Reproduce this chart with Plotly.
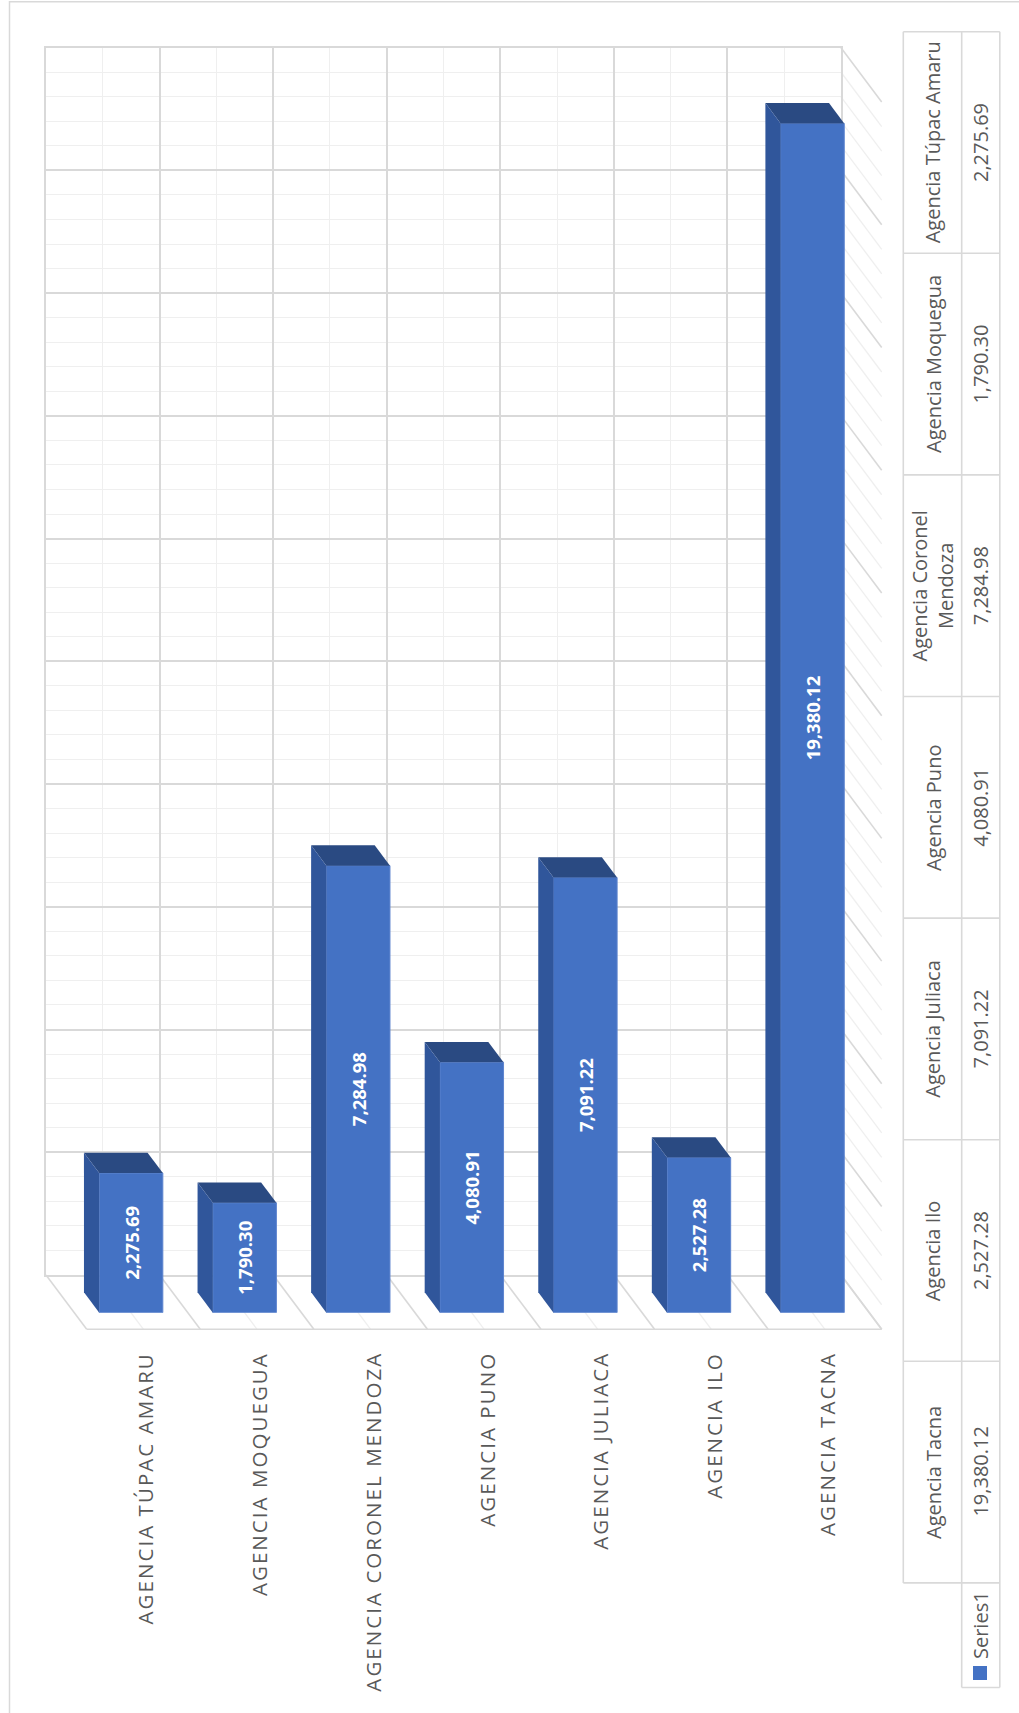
import plotly.graph_objects as go

# ---- data ----
agencias = [
    "Agencia Túpac Amaru",
    "Agencia Moquegua",
    "Agencia Coronel Mendoza",
    "Agencia Puno",
    "Agencia Juliaca",
    "Agencia Ilo",
    "Agencia Tacna",
]
montos = [2275.69, 1790.30, 7284.98, 4080.91, 7091.22, 2527.28, 19380.12]
encabezados_tabla = [
    "Agencia Túpac Amaru",
    "Agencia Moquegua",
    "Agencia Coronel<br>Mendoza",
    "Agencia Puno",
    "Agencia Juliaca",
    "Agencia Ilo",
    "Agencia Tacna",
]
serie = "Series1"
eje_max = 20000
paso_mayor = 2000
paso_menor = 400

# ---- page geometry (pixels) ----
W, H = 1019, 1713
WALL_L, WALL_R = 46.0, 841.0          # back wall left / right
WALL_BOTTOM, WALL_TOP = 1275.0, 47.7  # back wall value 0 / value max
DEPTH_X, DEPTH_Y = 40.7, 54.3         # oblique depth of the floor
FRONT_F, BACK_F = 0.694, 0.319        # depth fractions of bar front/back planes
BAR_W = 0.56

AZUL = "#4472C4"
AZUL_TOP = "#2A4A82"
AZUL_LADO = "#30569B"
GRID_MAYOR = "#D9D9D9"
GRID_MENOR = "#EFEFEF"
TEXTO = "#595959"
FUENTE = "Open Sans"

n = len(agencias)
cat_w = (WALL_R - WALL_L) / n
val_scale = (WALL_BOTTOM - WALL_TOP) / eje_max


def px(x):
    return x / W


def py(y):
    return 1 - y / H


fx, fy = FRONT_F * DEPTH_X, FRONT_F * DEPTH_Y
# offsets of the bar back plane relative to the front plane, in data units
dxd = -(FRONT_F - BACK_F) * DEPTH_X / cat_w
dyd = (FRONT_F - BACK_F) * DEPTH_Y / val_scale

xs = list(range(n))

fig = go.Figure()

# empty trace so the back-wall subplot (and its gridlines) is created
fig.add_trace(go.Scatter(
    x=[None], y=[None], xaxis="x", yaxis="y",
    mode="markers", hoverinfo="skip", showlegend=False,
))

# front faces of the 3D columns
fig.add_trace(go.Bar(
    x=xs, y=montos, width=BAR_W,
    xaxis="x2", yaxis="y2",
    marker=dict(color=AZUL, line=dict(color="#5E85CF", width=1)),
    text=[f"{v:,.2f}" for v in montos],
    textposition="inside", insidetextanchor="middle", textangle=-90,
    textfont=dict(family=FUENTE, size=18.5, color="white", weight="bold"),
    constraintext="none",
    hoverinfo="skip", showlegend=False,
))

shapes = []

# top and left faces of each column
for c, v in zip(xs, montos):
    l, r = c - BAR_W / 2, c + BAR_W / 2
    shapes.append(dict(
        type="path", xref="x2", yref="y2", layer="above",
        path=f"M{l},{v} L{r},{v} L{r + dxd},{v + dyd} L{l + dxd},{v + dyd} Z",
        fillcolor=AZUL_TOP, line=dict(width=0),
    ))
    shapes.append(dict(
        type="path", xref="x2", yref="y2", layer="above",
        path=f"M{l},0 L{l},{v} L{l + dxd},{v + dyd} L{l + dxd},{dyd} Z",
        fillcolor=AZUL_LADO, line=dict(width=0),
    ))

# floor: lines running from the back wall toward the viewer
for k in range(2 * n + 1):
    xb = WALL_L + k * cat_w / 2
    mayor = k % 2 == 0
    shapes.append(dict(
        type="line", xref="paper", yref="paper", layer="below",
        x0=px(xb), y0=py(WALL_BOTTOM),
        x1=px(xb + DEPTH_X), y1=py(WALL_BOTTOM + DEPTH_Y),
        line=dict(color=GRID_MAYOR if mayor else GRID_MENOR, width=1.6 if mayor else 1.3),
    ))
shapes.append(dict(
    type="line", xref="paper", yref="paper", layer="below",
    x0=px(WALL_L + DEPTH_X), y0=py(WALL_BOTTOM + DEPTH_Y),
    x1=px(WALL_R + DEPTH_X), y1=py(WALL_BOTTOM + DEPTH_Y),
    line=dict(color=GRID_MAYOR, width=1.6),
))

# side wall: value gridlines seen obliquely
for v in range(0, eje_max + 1, paso_menor):
    yb = WALL_BOTTOM - v * val_scale
    mayor = v % paso_mayor == 0
    shapes.append(dict(
        type="line", xref="paper", yref="paper", layer="below",
        x0=px(WALL_R), y0=py(yb),
        x1=px(WALL_R + DEPTH_X), y1=py(yb + DEPTH_Y),
        line=dict(color=GRID_MAYOR if mayor else GRID_MENOR, width=1.6 if mayor else 1.3),
    ))

# chart area border
shapes.append(dict(
    type="rect", xref="paper", yref="paper", layer="below",
    x0=px(9.5), y0=py(1.7), x1=px(W + 5), y1=py(H + 5),
    line=dict(color=GRID_MAYOR, width=1.5), fillcolor="rgba(0,0,0,0)",
))

# ---- data table ----
TAB_X0, TAB_X1, TAB_X2 = 903.3, 961.7, 999.8
TAB_Y0, ROW_H = 31.7, 221.6
TAB_Y_END = TAB_Y0 + n * ROW_H
LEG_Y_END = 1687.5
borde = dict(color=GRID_MAYOR, width=1.6)

shapes.append(dict(type="line", xref="paper", yref="paper",
                   x0=px(TAB_X0), y0=py(TAB_Y0), x1=px(TAB_X0), y1=py(TAB_Y_END), line=borde))
shapes.append(dict(type="line", xref="paper", yref="paper",
                   x0=px(TAB_X1), y0=py(TAB_Y0), x1=px(TAB_X1), y1=py(LEG_Y_END), line=borde))
shapes.append(dict(type="line", xref="paper", yref="paper",
                   x0=px(TAB_X2), y0=py(TAB_Y0), x1=px(TAB_X2), y1=py(LEG_Y_END), line=borde))
for k in range(n + 1):
    yk = TAB_Y0 + k * ROW_H
    shapes.append(dict(type="line", xref="paper", yref="paper",
                       x0=px(TAB_X0), y0=py(yk), x1=px(TAB_X2), y1=py(yk), line=borde))
shapes.append(dict(type="line", xref="paper", yref="paper",
                   x0=px(TAB_X1), y0=py(LEG_Y_END), x1=px(TAB_X2), y1=py(LEG_Y_END), line=borde))
# legend key
shapes.append(dict(type="rect", xref="paper", yref="paper",
                   x0=px(973), y0=py(1666), x1=px(987), y1=py(1680),
                   fillcolor=AZUL, line=dict(width=0)))

annotations = []
for i, (enc, v) in enumerate(zip(encabezados_tabla, montos)):
    yc = TAB_Y0 + (i + 0.5) * ROW_H
    annotations.append(dict(
        xref="paper", yref="paper", x=px(932.8), y=py(yc),
        text=enc, showarrow=False, textangle=-90,
        xanchor="center", yanchor="middle",
        font=dict(family=FUENTE, size=20, color=TEXTO),
    ))
    annotations.append(dict(
        xref="paper", yref="paper", x=px(980.5), y=py(yc),
        text=f"{v:,.2f}", showarrow=False, textangle=-90,
        xanchor="center", yanchor="middle",
        font=dict(family=FUENTE, size=20, color=TEXTO),
    ))
annotations.append(dict(
    xref="paper", yref="paper", x=px(980), y=py(1661),
    text=serie, showarrow=False, textangle=-90,
    xanchor="center", yanchor="bottom",
    font=dict(family=FUENTE, size=20, color=TEXTO),
))

# category labels under the floor, letter-spaced capitals
for i, nombre in enumerate(agencias):
    etiqueta = "\u200a".join(nombre.upper())
    xc = WALL_L + DEPTH_X + (i + 0.5) * cat_w + 2
    annotations.append(dict(
        xref="paper", yref="paper", x=px(xc), y=py(1352),
        text=etiqueta, showarrow=False, textangle=-90,
        xanchor="center", yanchor="top",
        font=dict(family=FUENTE, size=20.5, color=TEXTO),
    ))

fig.update_layout(
    width=W, height=H,
    margin=dict(l=0, r=0, t=0, b=0),
    paper_bgcolor="white", plot_bgcolor="rgba(0,0,0,0)",
    showlegend=False,
    shapes=shapes, annotations=annotations,
    # back wall with its gridlines
    xaxis=dict(
        domain=[px(WALL_L), px(WALL_R)], range=[-0.5, n - 0.5],
        tickmode="linear", tick0=-0.5, dtick=1, showticklabels=False, ticks="",
        showgrid=True, gridcolor=GRID_MAYOR, gridwidth=1.6,
        minor=dict(tick0=-0.5, dtick=0.5, showgrid=True, gridcolor=GRID_MENOR, gridwidth=1.3),
        zeroline=False, showline=True, mirror=True, linecolor=GRID_MAYOR, linewidth=1.6,
        fixedrange=True, anchor="y",
    ),
    yaxis=dict(
        domain=[py(WALL_BOTTOM), py(WALL_TOP)], range=[0, eje_max],
        tickmode="linear", tick0=0, dtick=paso_mayor, showticklabels=False, ticks="",
        showgrid=True, gridcolor=GRID_MAYOR, gridwidth=1.6,
        minor=dict(tick0=0, dtick=paso_menor, showgrid=True, gridcolor=GRID_MENOR, gridwidth=1.3),
        zeroline=False, showline=True, mirror=True, linecolor=GRID_MAYOR, linewidth=1.6,
        fixedrange=True, anchor="x",
    ),
    # front plane that carries the columns
    xaxis2=dict(
        domain=[px(WALL_L + fx), px(WALL_R + fx)], range=[-0.5, n - 0.5],
        anchor="y2", visible=False, fixedrange=True,
    ),
    yaxis2=dict(
        domain=[py(WALL_BOTTOM + fy), py(WALL_TOP + fy)], range=[0, eje_max],
        anchor="x2", visible=False, fixedrange=True,
    ),
)

fig.write_html("out.html")
